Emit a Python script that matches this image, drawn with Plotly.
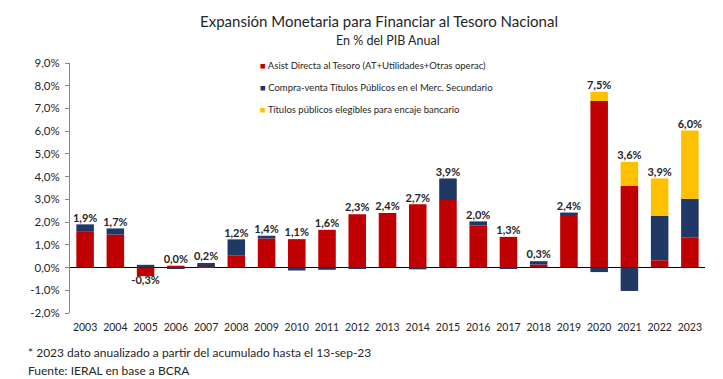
import plotly.graph_objects as go

years = [str(y) for y in range(2003, 2024)]
asist_directa = [1.60, 1.45, -0.38, 0.08, 0.04, 0.54, 1.28, 1.25, 1.66, 2.35, 2.38, 2.78, 2.97, 1.85, 1.35, 0.13, 2.35, 7.33, 3.60, 0.32, 1.33]
compra_venta = [0.30, 0.27, 0.12, -0.04, 0.16, 0.70, 0.12, -0.13, -0.10, -0.05, 0.02, -0.08, 0.95, 0.18, -0.03, 0.15, 0.07, -0.20, -1.03, 1.95, 1.70]
encaje = [0, 0, 0, 0, 0, 0, 0, 0, 0, 0, 0, 0, 0, 0, 0, 0, 0, 0.40, 1.05, 1.65, 3.00]
total_labels = ["1,9%", "1,7%", "-0,3%", "0,0%", "0,2%", "1,2%", "1,4%", "1,1%", "1,6%", "2,3%", "2,4%", "2,7%", "3,9%", "2,0%", "1,3%", "0,3%", "2,4%", "7,5%", "3,6%", "3,9%", "6,0%"]
y_ticks = [-2, -1, 0, 1, 2, 3, 4, 5, 6, 7, 8, 9]
y_tick_text = ["-2,0%", "-1,0%", "0,0%", "1,0%", "2,0%", "3,0%", "4,0%", "5,0%", "6,0%", "7,0%", "8,0%", "9,0%"]
series_names = ["Asist Directa al Tesoro (AT+Utilidades+Otras operac)",
                "Compra-venta Títulos Públicos en el Merc. Secundario",
                "Títulos públicos elegibles para encaje bancario"]
colors = ["#C00000", "#1F3864", "#FFC000"]

FONT = "Lato"
TXT = "#262626"
OFF = 8  # page body margin
W, H = 723 - OFF, 379 - OFF
L, R, T, B = 70 - OFF, 18, 63 - OFF, 66


def px(x):  # reference pixel -> paper x
    return (x - 70) / (723 - 70 - 18)


def py(y):  # reference pixel -> paper y
    return (313 - y) / (313 - 63)


fig = go.Figure()
for name, vals, col in zip(series_names, [asist_directa, compra_venta, encaje], colors):
    fig.add_trace(go.Bar(x=years, y=vals, name=name, marker_color=col,
                         marker_line_width=0, showlegend=False))

n = len(years)
pos_top, neg_bot, tot = [], [], []
for i in range(n):
    vals = [asist_directa[i], compra_venta[i], encaje[i]]
    pos_top.append(sum(v for v in vals if v > 0))
    neg_bot.append(sum(v for v in vals if v < 0))
    tot.append(sum(vals))

up = [i for i in range(n) if tot[i] >= 0]
dn = [i for i in range(n) if tot[i] < 0]
lblfont = dict(family=FONT, size=11, color=TXT, weight="bold")
fig.add_trace(go.Scatter(x=[years[i] for i in up], y=[pos_top[i] for i in up],
                         text=[total_labels[i] for i in up], mode="text", textposition="top center",
                         textfont=lblfont, showlegend=False, hoverinfo="skip", cliponaxis=False))
fig.add_trace(go.Scatter(x=[years[i] for i in dn], y=[neg_bot[i] for i in dn],
                         text=[total_labels[i] for i in dn], mode="text", textposition="bottom center",
                         textfont=lblfont, showlegend=False, hoverinfo="skip", cliponaxis=False))

anns = []
# legend as text with coloured square glyphs
for k, (name, col) in enumerate(zip(series_names, colors)):
    anns.append(dict(text=f"<span style='color:{col}'>■</span> {name}",
                     x=px(258), y=py(65 + 22 * k), xref="paper", yref="paper",
                     xanchor="left", yanchor="middle", showarrow=False,
                     font=dict(family=FONT, size=9.5, color=TXT)))
anns.append(dict(text="En % del PIB Anual", x=0.5, y=py(41), xref="paper", yref="paper",
                 xanchor="center", yanchor="middle", showarrow=False,
                 font=dict(family=FONT, size=12.5, color=TXT)))
foot = ["* 2023 dato anualizado a partir del acumulado hasta el 13-sep-23", "Fuente: IERAL en base a BCRA"]
for t, yy in zip(foot, [352, 370]):
    anns.append(dict(text=t, x=px(26), y=py(yy), xref="paper", yref="paper", xanchor="left",
                     yanchor="middle", showarrow=False, font=dict(family=FONT, size=12, color=TXT)))

fig.update_layout(
    width=W, height=H,
    barmode="relative", bargap=0.42,
    paper_bgcolor="white", plot_bgcolor="white",
    margin=dict(l=L, r=R, t=T, b=B, autoexpand=False),
    font=dict(family=FONT, size=10, color=TXT),
    title=dict(text="Expansión Monetaria para Financiar al Tesoro Nacional",
               x=px(379), xref="paper", xanchor="center", y=1 - (22 - OFF) / H, yanchor="middle",
               font=dict(family=FONT, size=15, color=TXT)),
    xaxis=dict(type="category", range=[-0.5, n - 0.5], showline=False, ticks="", showgrid=False,
               ticklabelstandoff=6, tickfont=dict(family=FONT, size=10.5, color=TXT)),
    yaxis=dict(range=[-2, 9], tickvals=y_ticks, ticktext=y_tick_text,
               showgrid=False, showline=True, linecolor="#868686", linewidth=1,
               ticks="outside", ticklen=4, tickcolor="#868686", ticklabelstandoff=3,
               zeroline=True, zerolinecolor="#000000", zerolinewidth=1,
               tickfont=dict(family=FONT, size=11.5, color=TXT)),
    annotations=anns,
)
fig.write_html("out.html")
